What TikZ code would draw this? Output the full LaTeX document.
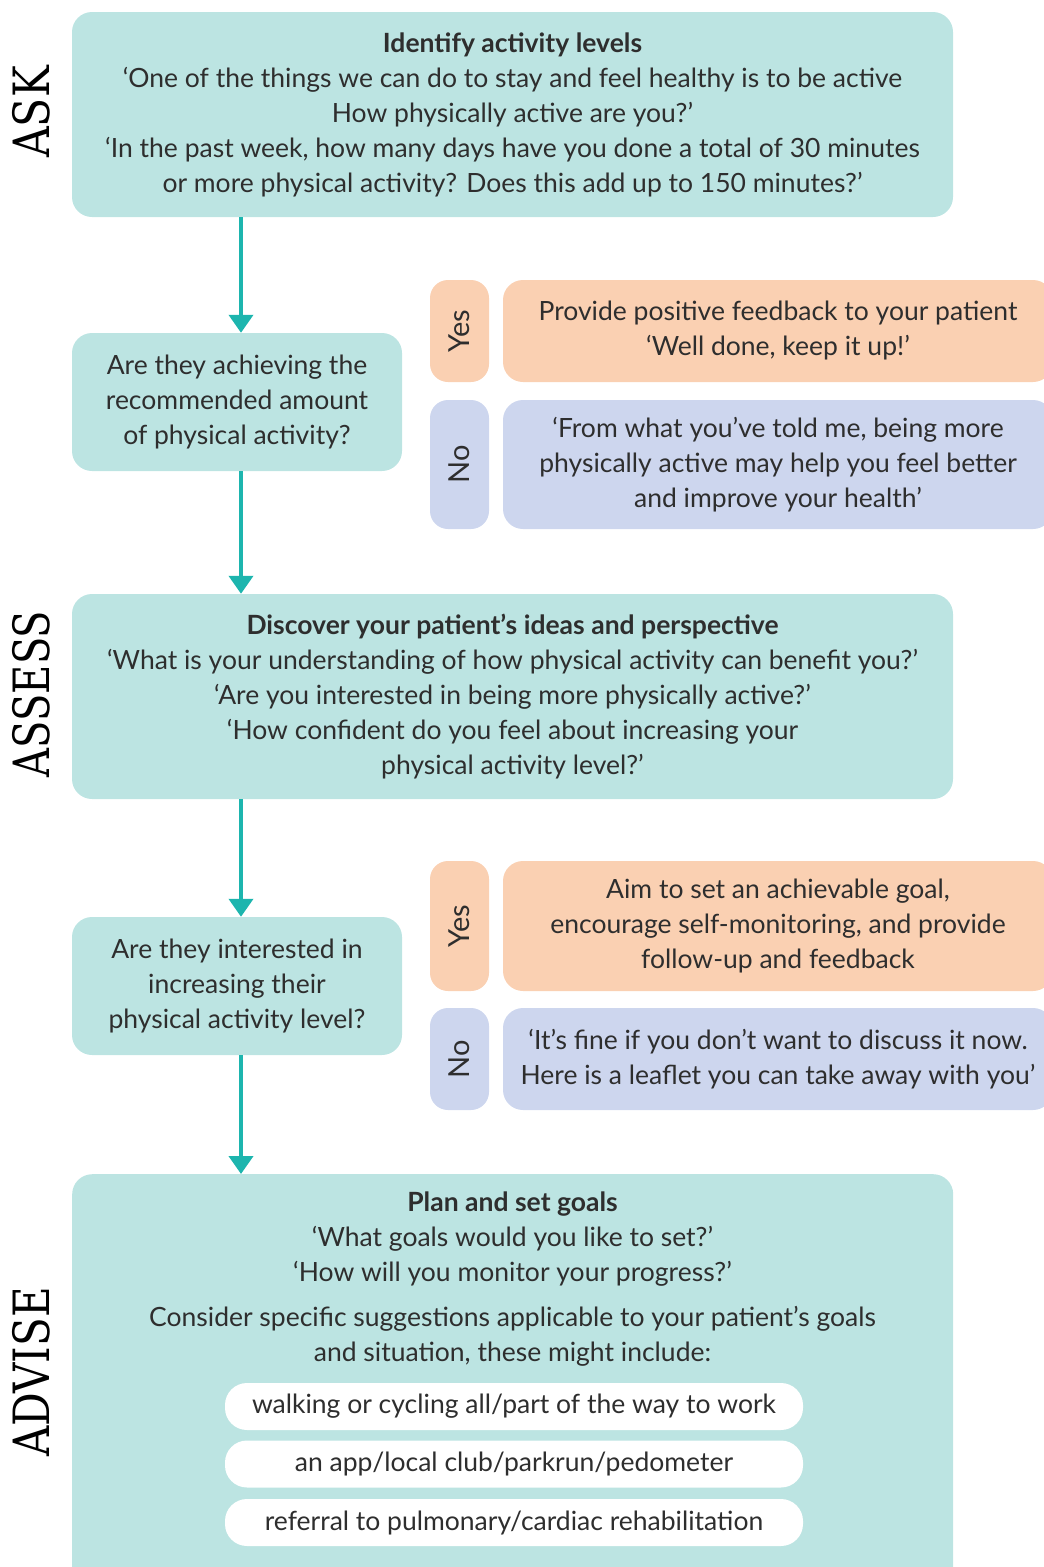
\documentclass[tikz,border=0pt]{standalone}
\usepackage{fontspec}
\setmainfont{Lato}
\newfontfamily\labfont{DejaVu Serif}
\usetikzlibrary{arrows.meta}
\definecolor{teal}{HTML}{BCE4E2}
\definecolor{peach}{HTML}{FAD0B2}
\definecolor{lav}{HTML}{CDD6EE}
\definecolor{arr}{HTML}{1DB5AE}
\definecolor{txt}{HTML}{2E2E2E}
\tikzset{
  box/.style={rounded corners=20pt, inner sep=0pt, align=center, text=txt,
    font=\fontsize{26.5}{35}\selectfont},
  tealbox/.style={box, fill=teal},
  peachbox/.style={box, fill=peach},
  lavbox/.style={box, fill=lav},
  tag/.style={box, rounded corners=18pt, minimum width=59pt},
  tagtext/.style={rotate=90, text=txt, font=\fontsize{29}{30}\selectfont},
  seclab/.style={rotate=90, text=black, font=\labfont\fontsize{50}{50}\selectfont},
  flow/.style={draw=arr, line width=4pt, -{Triangle[width=24pt,length=18pt]}},
  pill/.style={box, fill=white, rounded corners=22pt, minimum width=578pt, minimum height=47pt},
  plain/.style={text=txt, align=center, font=\fontsize{26.5}{35}\selectfont, inner sep=0pt}
}
\begin{document}
\begin{tikzpicture}[x=1pt,y=-1pt]
\useasboundingbox (0,0) rectangle (1044,1567);
\clip (0,0) rectangle (1044,1567);
% section labels
\node[seclab] (lask) at (31,112) {\scalebox{0.85}[1]{ASK}};
\node[seclab] (lassess) at (31,694) {\scalebox{0.8}[1]{ASSESS}};
\node[seclab] (ladvise) at (31,1372) {\scalebox{0.84}[1]{ADVISE}};
% ASK box
\node[tealbox, minimum width=881pt, minimum height=205pt] (ask) at (512.5,114.5)
 {\textbf{Identify activity levels}\\
  ‘One of the things we can do to stay and feel healthy is to be active\\
  How physically active are you?’\\
  ‘In the past week, how many days have you done a total of 30 minutes\\
  or more physical activity? Does this add up to 150 minutes?’};
% Q1
\node[tealbox, minimum width=330pt, minimum height=138pt] (q1) at (237,402)
 {Are they achieving the\\recommended amount\\of physical activity?};
\node[tag, fill=peach, minimum height=102pt] (y1t) at (459.5,331) {};
\node[tagtext] (y1l) at (y1t) {Yes};
\node[peachbox, minimum width=550pt, minimum height=102pt] (y1) at (778,331)
 {Provide positive feedback to your patient\\‘Well done, keep it up!’};
\node[tag, fill=lav, minimum height=129pt] (n1t) at (459.5,464.5) {};
\node[tagtext] (n1l) at (n1t) {No};
\node[lavbox, minimum width=550pt, minimum height=129pt] (n1) at (778,464.5)
 {‘From what you’ve told me, being more\\physically active may help you feel better\\and improve your health’};
% ASSESS box
\node[tealbox, minimum width=881pt, minimum height=205pt] (assess) at (512.5,696.5)
 {\textbf{Discover your patient’s ideas and perspective}\\
  ‘What is your understanding of how physical activity can benefit you?’\\
  ‘Are you interested in being more physically active?’\\
  ‘How confident do you feel about increasing your\\
  physical activity level?’};
% Q2
\node[tealbox, minimum width=330pt, minimum height=138pt] (q2) at (237,986)
 {Are they interested in\\increasing their\\physical activity level?};
\node[tag, fill=peach, minimum height=130pt] (y2t) at (459.5,926) {};
\node[tagtext] (y2l) at (y2t) {Yes};
\node[peachbox, minimum width=550pt, minimum height=130pt] (y2) at (778,926)
 {Aim to set an achievable goal,\\encourage self-monitoring, and provide\\follow-up and feedback};
\node[tag, fill=lav, minimum height=102pt] (n2t) at (459.5,1059) {};
\node[tagtext] (n2l) at (n2t) {No};
\node[lavbox, minimum width=550pt, minimum height=102pt] (n2) at (778,1059)
 {‘It’s fine if you don’t want to discuss it now.\\Here is a leaflet you can take away with you’};
% ADVISE box
\node[tealbox, minimum width=881pt, minimum height=420pt, anchor=north west] (advise) at (72,1174) {};
\node[plain] (adv1) at (512.5,1239)
 {\textbf{Plan and set goals}\\‘What goals would you like to set?’\\‘How will you monitor your progress?’};
\node[plain] (adv2) at (512.5,1336)
 {Consider specific suggestions applicable to your patient’s goals\\and situation, these might include:};
\node[pill] (p1) at (514,1406.5) {walking or cycling all/part of the way to work};
\node[pill] (p2) at (514,1464) {an app/local club/parkrun/pedometer};
\node[pill] (p3) at (514,1522.5) {referral to pulmonary/cardiac rehabilitation};
% arrows
\coordinate (a1s) at ([xshift=4pt]q1.north |- ask.south);
\coordinate (a1e) at ([xshift=4pt]q1.north);
\coordinate (a2s) at ([xshift=4pt]q1.south);
\coordinate (a2e) at ([xshift=4pt]q1.south |- assess.north);
\coordinate (a3s) at ([xshift=4pt]q2.north |- assess.south);
\coordinate (a3e) at ([xshift=4pt]q2.north);
\coordinate (a4s) at ([xshift=4pt]q2.south);
\coordinate (a4e) at ([xshift=4pt]q2.south |- advise.north);
\draw[flow] (a1s) -- (a1e);
\draw[flow] (a2s) -- (a2e);
\draw[flow] (a3s) -- (a3e);
\draw[flow] (a4s) -- (a4e);
\end{tikzpicture}
\end{document}
